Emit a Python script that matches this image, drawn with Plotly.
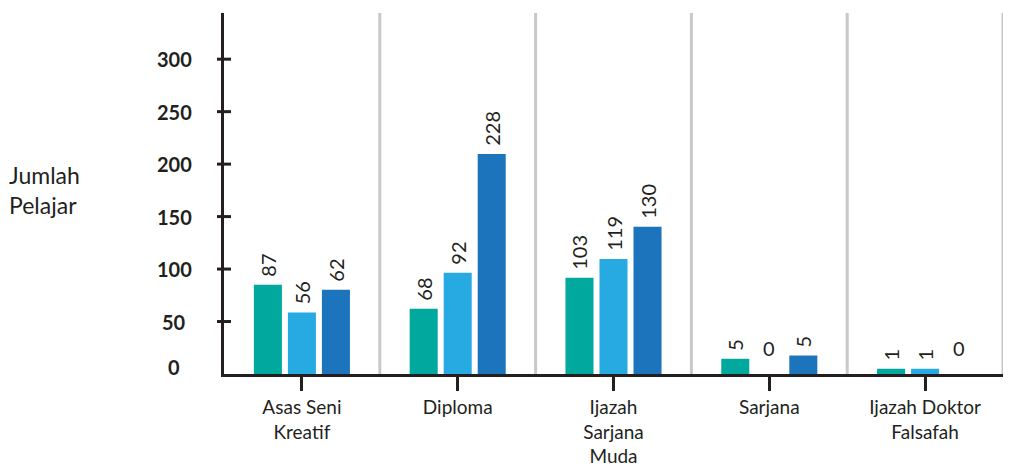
import plotly.graph_objects as go

categories = ["Asas Seni<br>Kreatif", "Diploma", "Ijazah<br>Sarjana<br>Muda", "Sarjana", "Ijazah Doktor<br>Falsafah"]
series_names = ["Siri 1", "Siri 2", "Siri 3"]
bar_values = [
    [85.0, 62.1, 91.6, 14.5, 5.0],
    [58.6, 96.4, 109.7, 0, 5.0],
    [80.2, 209.7, 140.2, 17.6, 0],
]
bar_labels = [
    ["87", "68", "103", "5", "1"],
    ["56", "92", "119", "0", "1"],
    ["62", "228", "130", "5", "0"],
]
y_ticks = [0, 50, 100, 150, 200, 250, 300]
y_title = "Jumlah<br>Pelajar"

colors = ["#00A89D", "#27AAE1", "#1C75BC"]
ink = "#231F20"
FONT = "Lato"

fig = go.Figure()
for s, name in enumerate(series_names):
    txt = ["\u00a0" + l if v != 0 else "" for v, l in zip(bar_values[s], bar_labels[s])]
    fig.add_trace(go.Bar(
        x=categories, y=bar_values[s], name=name,
        marker=dict(color=colors[s], line=dict(width=0)),
        text=txt, textposition="outside", textangle=-90,
        textfont=dict(family=FONT, size=20, color=ink),
        constraintext="none", cliponaxis=False,
    ))

slot = 34
annotations = []
# zero-value labels stay upright
for s in range(len(series_names)):
    for i, v in enumerate(bar_values[s]):
        if v == 0:
            annotations.append(dict(
                x=categories[i], y=0, xref="x", yref="y", text=bar_labels[s][i],
                showarrow=False, xshift=(s - 1) * slot, yshift=12, yanchor="bottom",
                font=dict(family=FONT, size=20, color=ink)))

# y tick labels (centred column)
for v in y_ticks:
    annotations.append(dict(x=0, y=v, xref="paper", yref="y", text="<b>%d</b>" % v,
                            showarrow=False, xanchor="center", xshift=-50,
                            yshift=7 if v == 0 else 0,
                            font=dict(family=FONT, size=20, color=ink)))

annotations.append(dict(x=0, y=175, xref="paper", yref="y", text=y_title,
                        showarrow=False, xanchor="left", align="left", yanchor="middle",
                        xshift=-217, font=dict(family=FONT, size=23, color=ink)))

shapes = []
for i in range(len(categories)):
    shapes.append(dict(type="line", xref="x", yref="y domain", x0=i + 0.5, x1=i + 0.5,
                       y0=0, y1=1, line=dict(color="#C8C8C8", width=3), layer="below"))
for v in y_ticks[1:]:
    shapes.append(dict(type="line", xref="paper", xsizemode="pixel", xanchor=0,
                       x0=-7, x1=7, yref="y", y0=v, y1=v,
                       line=dict(color=ink, width=3)))

fig.update_layout(
    width=1009, height=467,
    margin=dict(l=224, r=6, t=13, b=93),
    paper_bgcolor="white", plot_bgcolor="white",
    barmode="group", bargap=0.345, bargroupgap=0.176,
    showlegend=False,
    font=dict(family=FONT, color=ink),
    annotations=annotations, shapes=shapes,
    xaxis=dict(
        automargin=False,
        showline=True, linewidth=3, linecolor=ink, showgrid=False,
        ticks="outside", ticklen=14, tickwidth=3, tickcolor=ink,
        tickfont=dict(family=FONT, size=19, color=ink),
        range=[-0.5, len(categories) - 0.5],
    ),
    yaxis=dict(
        automargin=False,
        range=[0, 344], showline=True, linewidth=3, linecolor=ink, showgrid=False,
        zeroline=False, showticklabels=False, ticks="",
    ),
)

fig.write_html("out.html", config={"displayModeBar": False},
               post_script="document.body.style.margin='0';document.body.style.overflow='hidden';")
